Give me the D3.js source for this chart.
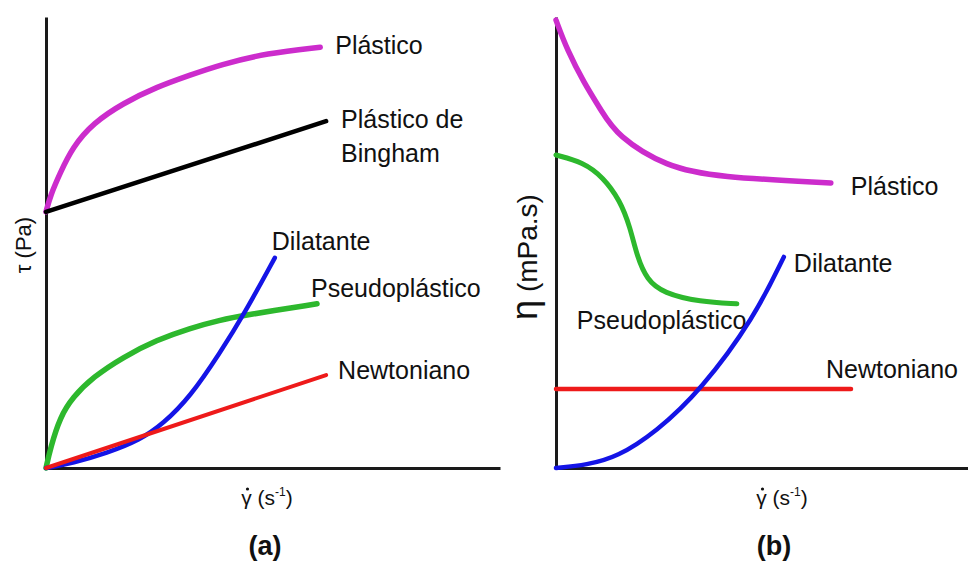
<!DOCTYPE html>
<html>
<head>
<meta charset="utf-8">
<script src="https://cdn.jsdelivr.net/npm/d3@7/dist/d3.min.js"></script>
<style>
  body { margin: 0; background: #fff; }
  text { font-family: Arial, "Liberation Sans", sans-serif; fill: #111; }
</style>
</head>
<body>
<svg id="chart" width="968" height="563"></svg>
<script>
// (a) tension de corte vs velocidad de deformacion (arbitrary units 0..10)
const aPlasticoX  = [0, 0.10, 0.31, 0.59, 1.04, 1.70, 2.44, 3.17, 3.83, 4.87, 6.04];
const aPlasticoY  = [5.68, 6.05, 6.54, 7.12, 7.65, 8.09, 8.45, 8.71, 8.94, 9.20, 9.33];
const aBinghamX   = [0, 6.17];
const aBinghamY   = [5.68, 7.69];
const aDilatanteX = [0, 0.59, 1.34, 2.07, 2.58, 3.17, 3.83, 4.38, 5.04];
const aDilatanteY = [0, 0.11, 0.33, 0.62, 0.98, 1.57, 2.55, 3.44, 4.66];
const aPseudoX    = [0, 0.10, 0.31, 0.59, 1.04, 1.70, 2.44, 3.17, 3.83, 4.38, 5.97];
const aPseudoY    = [0, 0.45, 1.13, 1.57, 2.02, 2.46, 2.84, 3.10, 3.28, 3.39, 3.64];
const aNewtonX    = [0, 6.17];
const aNewtonY    = [0, 2.06];

// (b) viscosidad vs velocidad de deformacion
const bPlasticoX  = [0, 0.27, 0.68, 1.09, 1.48, 2.69, 3.91, 6.67];
const bPlasticoY  = [9.93, 9.27, 8.54, 7.94, 7.36, 6.67, 6.45, 6.32];
const bPseudoX    = [0, 0.66, 1.14, 1.55, 1.80, 1.97, 2.21, 2.60, 3.50, 4.39];
const bPseudoY    = [6.94, 6.78, 6.45, 5.94, 5.34, 4.68, 4.17, 3.88, 3.68, 3.64];
const bDilatanteX = [0, 0.75, 1.48, 2.43, 3.52, 4.81, 5.53];
const bDilatanteY = [0, 0.07, 0.24, 0.80, 1.73, 3.33, 4.68];
const bNewtonX    = [0, 7.16];
const bNewtonY    = [1.75, 1.75];

const svg = d3.select('#chart');

const colors = {
  plastico: '#cc2ccc',
  bingham: '#000000',
  dilatante: '#1414e6',
  pseudo: '#2db82d',
  newton: '#ee1a1a'
};

const yScale = d3.scaleLinear().domain([0, 10]).range([468, 17]);
const xA = d3.scaleLinear().domain([0, 10]).range([46, 500]);
const xB = d3.scaleLinear().domain([0, 10]).range([556, 968]);

function zip(xs, ys) {
  return xs.map((x, i) => [x, ys[i]]);
}

function drawAxes(x) {
  const gx = svg.append('g')
    .attr('transform', 'translate(0,' + yScale(0) + ')')
    .call(d3.axisBottom(x).ticks(0).tickSizeOuter(0));
  const gy = svg.append('g')
    .attr('transform', 'translate(' + x(0) + ',0)')
    .call(d3.axisLeft(yScale).ticks(0).tickSizeOuter(0));
  [gx, gy].forEach(g => g.select('.domain')
    .attr('stroke', '#1a1a1a')
    .attr('stroke-width', 3));
}

function drawCurve(x, xs, ys, color, width) {
  const line = d3.line()
    .x(d => x(d[0]))
    .y(d => yScale(d[1]))
    .curve(d3.curveBasis);
  const pts = zip(xs, ys);
  svg.append('path')
    .datum(pts)
    .attr('d', line)
    .attr('fill', 'none')
    .attr('stroke', color)
    .attr('stroke-width', width)
    .attr('stroke-linecap', 'round');
  return [x(pts[pts.length - 1][0]), yScale(pts[pts.length - 1][1])];
}

function label(pos, lines, dx, dy) {
  const t = svg.append('text')
    .attr('x', pos[0] + dx)
    .attr('y', pos[1] + dy)
    .attr('font-size', 25);
  lines.forEach((s, i) => {
    t.append('tspan')
      .attr('x', pos[0] + dx)
      .attr('dy', i === 0 ? 0 : 34)
      .text(s);
  });
}

function shearLabel(cx) {
  const t = svg.append('text')
    .attr('x', cx)
    .attr('y', 505)
    .attr('font-size', 21)
    .attr('text-anchor', 'middle');
  t.append('tspan').text('\u03B3');
  t.append('tspan').text(' (s');
  t.append('tspan').attr('font-size', 12).attr('dy', -9).text('-1');
  t.append('tspan').attr('dy', 9).text(')');
  // dot over gamma
  const gl = t.node().getExtentOfChar(0);
  svg.append('circle')
    .attr('cx', gl.x + gl.width / 2 + 1)
    .attr('cy', gl.y + 3)
    .attr('r', 1.6)
    .attr('fill', '#111');
}

// ---- panel (a)
drawAxes(xA);
let end;
end = drawCurve(xA, aPlasticoX, aPlasticoY, colors.plastico, 5.5);
label(end, ['Plástico'], 15, 7);
end = drawCurve(xA, aBinghamX, aBinghamY, colors.bingham, 4.5);
label(end, ['Plástico de', 'Bingham'], 15, 7);
end = drawCurve(xA, aPseudoX, aPseudoY, colors.pseudo, 5.5);
label(end, ['Pseudoplástico'], -6, -7);
end = drawCurve(xA, aDilatanteX, aDilatanteY, colors.dilatante, 4.5);
label(end, ['Dilatante'], -3, -8);
end = drawCurve(xA, aNewtonX, aNewtonY, colors.newton, 4);
label(end, ['Newtoniano'], 12, 4);

svg.append('text')
  .attr('transform', 'translate(31,245) rotate(-90)')
  .attr('text-anchor', 'middle')
  .attr('font-size', 22)
  .text('\u03C4 (Pa)');
shearLabel(267);
svg.append('text')
  .attr('x', 265).attr('y', 555)
  .attr('text-anchor', 'middle')
  .attr('font-size', 27)
  .attr('font-weight', 'bold')
  .text('(a)');

// ---- panel (b)
drawAxes(xB);
end = drawCurve(xB, bPlasticoX, bPlasticoY, colors.plastico, 5.5);
label(end, ['Plástico'], 20, 12);
end = drawCurve(xB, bPseudoX, bPseudoY, colors.pseudo, 5);
label(end, ['Pseudoplástico'], -160, 25);
end = drawCurve(xB, bNewtonX, bNewtonY, colors.newton, 4.5);
label(end, ['Newtoniano'], -25, -11);
end = drawCurve(xB, bDilatanteX, bDilatanteY, colors.dilatante, 4.5);
label(end, ['Dilatante'], 10, 15);

const eta = svg.append('text')
  .attr('transform', 'translate(537,257) rotate(-90)')
  .attr('text-anchor', 'middle')
  .attr('font-size', 28);
eta.append('tspan').attr('font-size', 36).text('\u03B7');
eta.append('tspan').text(' (mPa.s)');
shearLabel(782);
svg.append('text')
  .attr('x', 774).attr('y', 555)
  .attr('text-anchor', 'middle')
  .attr('font-size', 27)
  .attr('font-weight', 'bold')
  .text('(b)');
</script>
</body>
</html>
